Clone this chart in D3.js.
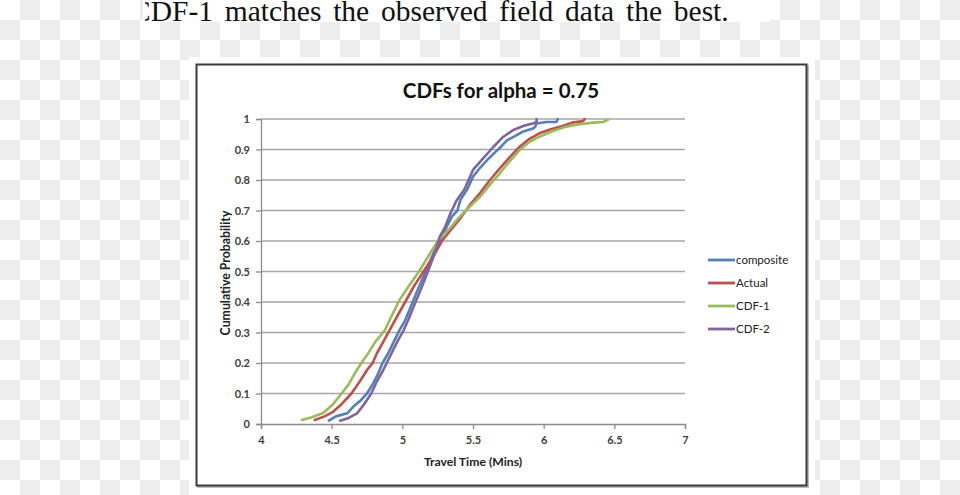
<!DOCTYPE html>
<html><head><meta charset="utf-8">
<script src="https://cdn.jsdelivr.net/npm/d3@7"></script>
<style>html,body{margin:0;padding:0;background:#fff;}svg{display:block;}</style>
</head><body>
<svg id="c" width="960" height="495"></svg>
<script>
// ---- data ----
const seriesNames = ["composite", "Actual", "CDF-1", "CDF-2"];
const seriesColors = ["#4F81BD", "#C0504D", "#9BBB59", "#8064A2"];
const xTicks = [4, 4.5, 5, 5.5, 6, 6.5, 7];
const yTicks = [0, 0.1, 0.2, 0.3, 0.4, 0.5, 0.6, 0.7, 0.8, 0.9, 1];

const compositeT = [4.48,4.53,4.61,4.66,4.70,4.75,4.79,4.83,4.86,4.90,4.94,4.98,5.02,5.05,5.10,5.17,5.22,5.27,5.31,5.35,5.39,5.41,5.46,5.50,5.55,5.60,5.65,5.70,5.74,5.79,5.85,5.93,5.94,5.95,6.02,6.09,6.10];
const compositeP = [0.011,0.025,0.035,0.06,0.075,0.10,0.13,0.166,0.20,0.232,0.27,0.308,0.34,0.374,0.43,0.505,0.56,0.603,0.643,0.68,0.70,0.734,0.77,0.811,0.84,0.865,0.888,0.91,0.93,0.942,0.958,0.97,0.975,0.985,0.99,0.99,1.0];

const actualT = [4.38,4.45,4.51,4.57,4.64,4.70,4.75,4.79,4.82,4.86,4.91,4.96,5.02,5.08,5.15,5.22,5.28,5.35,5.42,5.48,5.55,5.62,5.69,5.76,5.83,5.90,5.97,6.04,6.12,6.20,6.28,6.29];
const actualP = [0.013,0.025,0.04,0.065,0.10,0.14,0.177,0.20,0.232,0.265,0.308,0.35,0.40,0.45,0.50,0.55,0.60,0.64,0.68,0.72,0.757,0.80,0.838,0.875,0.909,0.935,0.953,0.965,0.975,0.988,0.993,1.0];

const cdf1T = [4.29,4.36,4.44,4.51,4.57,4.62,4.665,4.71,4.75,4.81,4.877,4.93,4.98,5.05,5.125,5.19,5.255,5.30,5.34,5.385,5.46,5.55,5.62,5.69,5.76,5.83,5.90,5.97,6.06,6.16,6.25,6.35,6.42,6.455];
const cdf1P = [0.013,0.022,0.036,0.065,0.10,0.13,0.167,0.20,0.226,0.27,0.308,0.36,0.407,0.455,0.505,0.555,0.603,0.625,0.643,0.669,0.705,0.745,0.785,0.822,0.862,0.898,0.925,0.942,0.96,0.975,0.983,0.988,0.99,0.997];

const cdf2T = [4.56,4.62,4.68,4.73,4.78,4.82,4.865,4.90,4.935,4.97,5.01,5.045,5.08,5.13,5.185,5.23,5.265,5.30,5.34,5.385,5.44,5.50,5.57,5.645,5.71,5.785,5.86,5.93,5.95,5.95];
const cdf2P = [0.011,0.02,0.035,0.065,0.10,0.14,0.177,0.21,0.243,0.275,0.308,0.345,0.385,0.44,0.505,0.56,0.614,0.643,0.69,0.734,0.77,0.833,0.87,0.909,0.94,0.964,0.978,0.986,0.99,1.0];

const seriesT = [compositeT, actualT, cdf1T, cdf2T];
const seriesP = [compositeP, actualP, cdf1P, cdf2P];

const titleText = "CDFs for alpha = 0.75";
const captionText = "CDF-1 matches the observed field data the best.";

// ---- drawing ----
const svg = d3.select("#c");
const W = 960, H = 495;

// checkerboard background
const defs = svg.append("defs");
const pat = defs.append("pattern").attr("id", "chk").attr("width", 40).attr("height", 40)
  .attr("patternUnits", "userSpaceOnUse");
pat.append("rect").attr("width", 40).attr("height", 40).attr("fill", "#ffffff");
pat.append("rect").attr("x", 20).attr("y", 0).attr("width", 20).attr("height", 20).attr("fill", "#ededed");
pat.append("rect").attr("x", 0).attr("y", 20).attr("width", 20).attr("height", 20).attr("fill", "#ededed");
svg.append("rect").attr("width", W).attr("height", H).attr("fill", "url(#chk)");

// caption strip
svg.append("rect").attr("x", 143).attr("y", 0).attr("width", 627).attr("height", 22).attr("fill", "#fff");
defs.append("clipPath").attr("id", "capclip").append("rect")
  .attr("x", 145).attr("y", 0).attr("width", 640).attr("height", 40);
svg.append("text").attr("clip-path", "url(#capclip)")
  .attr("x", 131).attr("y", 21)
  .attr("font-family", "'Liberation Serif', 'Times New Roman', serif")
  .attr("font-size", 29.5).attr("word-spacing", 4.4).attr("fill", "#111")
  .text(captionText);

// chart image background
svg.append("rect").attr("x", 189).attr("y", 57).attr("width", 626).attr("height", 438).attr("fill", "#fff");
// frame shadow + frame
svg.append("rect").attr("x", 198).attr("y", 66).attr("width", 610).attr("height", 421)
  .attr("fill", "none").attr("stroke", "#bdbdbd").attr("stroke-width", 2);
svg.append("rect").attr("x", 196.5).attr("y", 64.5).attr("width", 610).attr("height", 421)
  .attr("fill", "#fff").attr("stroke", "#3a3a3a").attr("stroke-width", 2);

const x = d3.scaleLinear().domain([4, 7]).range([261, 685]);
const y = d3.scaleLinear().domain([0, 1]).range([424, 119]);

const font = "Lato, 'Open Sans', sans-serif";
const labCol = "#404040";

// gridlines
svg.append("g").selectAll("line").data(yTicks.filter(d => d > 0)).join("line")
  .attr("x1", x(4)).attr("x2", x(7)).attr("y1", d => y(d)).attr("y2", d => y(d))
  .attr("stroke", "#a6a6a6").attr("stroke-width", 1.3);

// axes
const yAxis = svg.append("g").attr("transform", `translate(${x(4)},0)`)
  .call(d3.axisLeft(y).tickValues(yTicks).tickFormat(d3.format("")).tickSize(5).tickPadding(6));
const xAxis = svg.append("g").attr("transform", `translate(0,${y(0)})`)
  .call(d3.axisBottom(x).tickValues(xTicks).tickFormat(d3.format("")).tickSize(5).tickPadding(7));
[yAxis, xAxis].forEach(g => {
  g.select(".domain").attr("stroke", "#8c8c8c").attr("stroke-width", 1.3);
  g.selectAll(".tick line").attr("stroke", "#8c8c8c").attr("stroke-width", 1.3);
  g.selectAll("text").attr("font-family", font).attr("font-size", 11).attr("font-weight", "bold").attr("fill", labCol);
});

// series
const line = d3.line().x(d => x(d[0])).y(d => y(d[1]));
seriesNames.forEach((name, i) => {
  const pts = seriesT[i].map((t, j) => [t, seriesP[i][j]]);
  svg.append("path").datum(pts).attr("d", line)
    .attr("fill", "none").attr("stroke", seriesColors[i]).attr("stroke-width", 2.6)
    .attr("stroke-linejoin", "round").attr("stroke-linecap", "round");
});

// title
svg.append("text").attr("x", 501).attr("y", 98).attr("text-anchor", "middle")
  .attr("font-family", font).attr("font-weight", "bold").attr("font-size", 20.5).attr("fill", "#111")
  .text(titleText);

// axis titles
svg.append("text").attr("x", 473).attr("y", 466).attr("text-anchor", "middle")
  .attr("font-family", font).attr("font-weight", "bold").attr("font-size", 12.2).attr("fill", "#222")
  .text("Travel Time (Mins)");
svg.append("text").attr("transform", "translate(230,273) rotate(-90)").attr("text-anchor", "middle")
  .attr("font-family", font).attr("font-weight", "bold").attr("font-size", 12.3).attr("fill", "#222")
  .text("Cumulative Probability");

// legend
const leg = svg.append("g");
seriesNames.forEach((name, i) => {
  const ly = 260 + i * 23;
  leg.append("line").attr("x1", 708).attr("x2", 735).attr("y1", ly).attr("y2", ly)
    .attr("stroke", seriesColors[i]).attr("stroke-width", 2.8);
  leg.append("text").attr("x", 736).attr("y", ly + 4)
    .attr("font-family", font).attr("font-size", 11.5).attr("fill", "#222").text(name);
});
</script>
</body></html>
